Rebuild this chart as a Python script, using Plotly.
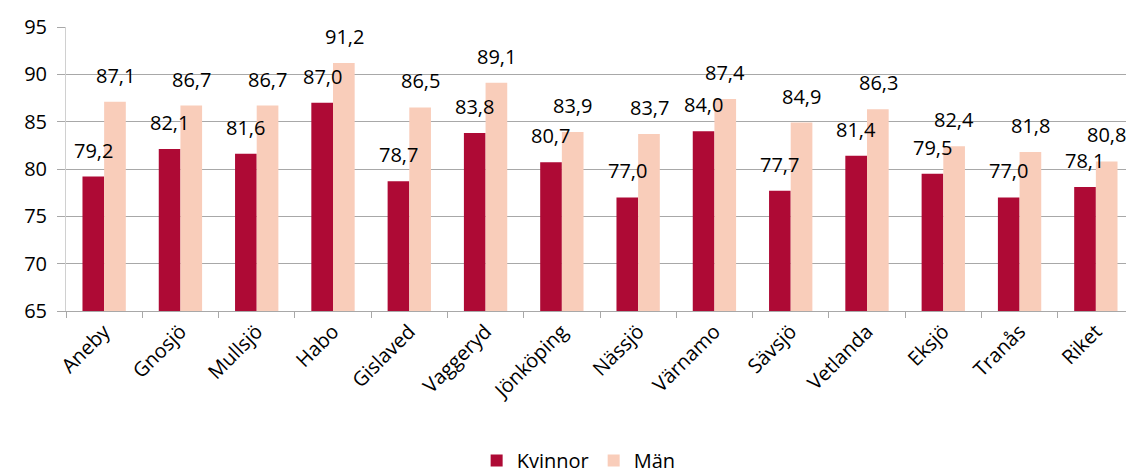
import plotly.graph_objects as go

categories = ["Aneby", "Gnosjö", "Mullsjö", "Habo", "Gislaved", "Vaggeryd", "Jönköping",
              "Nässjö", "Värnamo", "Sävsjö", "Vetlanda", "Eksjö", "Tranås", "Riket"]
kvinnor = [79.2, 82.1, 81.6, 87.0, 78.7, 83.8, 80.7, 77.0, 84.0, 77.7, 81.4, 79.5, 77.0, 78.1]
man = [87.1, 86.7, 86.7, 91.2, 86.5, 89.1, 83.9, 83.7, 87.4, 84.9, 86.3, 82.4, 81.8, 80.8]
y_ticks = [65, 70, 75, 80, 85, 90, 95]

RED = "#AE0A35"
PEACH = "#F9CDBA"
GRID = "#A8A8A8"
FONT = "Open Sans"

fig = go.Figure()
fig.add_trace(go.Bar(name="Kvinnor", x=categories, y=kvinnor, marker_color=RED,
                     marker_line_width=0))
fig.add_trace(go.Bar(name="Män", x=categories, y=man, marker_color=PEACH,
                     marker_line_width=0))

def fmt(v):
    return f"{v:.1f}".replace(".", ",")

annotations = []
for c, v in zip(categories, kvinnor):
    annotations.append(dict(x=c, y=v, xref="x", yref="y", text=fmt(v), showarrow=False,
                            xshift=-11, yshift=11, yanchor="bottom", xanchor="center",
                            font=dict(family=FONT, size=20, color="#000000")))
for c, v in zip(categories, man):
    annotations.append(dict(x=c, y=v, xref="x", yref="y", text=fmt(v), showarrow=False,
                            xshift=11, yshift=11, yanchor="bottom", xanchor="center",
                            font=dict(family=FONT, size=20, color="#000000")))

fig.update_layout(
    width=1126, height=467,
    margin=dict(l=58, r=0, t=19, b=164, autoexpand=False),
    paper_bgcolor="white", plot_bgcolor="white",
    barmode="group", bargap=0.432, bargroupgap=0,
    font=dict(family=FONT, size=20, color="#000000"),
    annotations=annotations,
    showlegend=True,
    legend=dict(orientation="h", x=0.48, xanchor="center", y=-0.458, yanchor="top",
                font=dict(family=FONT, size=20, color="#000000"),
                itemwidth=30, traceorder="normal"),
    xaxis=dict(type="category", range=[-0.5, 13.5], tickangle=-45, automargin=False,
               ticks="outside", tickson="boundaries", ticklen=6, tickcolor=GRID,
               showline=True, linecolor=GRID, linewidth=1, showgrid=False,
               tickfont=dict(family=FONT, size=20, color="#000000")),
    yaxis=dict(range=[65, 95], tickvals=y_ticks, ticktext=[str(t) for t in y_ticks],
               automargin=False,
               ticks="outside", ticklen=8, tickcolor=GRID,
               showline=True, linecolor="#D0D0D0", linewidth=1,
               showgrid=True, gridcolor=GRID, gridwidth=1, zeroline=False,
               ticklabelstandoff=6,
               tickfont=dict(family=FONT, size=20, color="#000000")),
)

fig.write_html("out.html")
